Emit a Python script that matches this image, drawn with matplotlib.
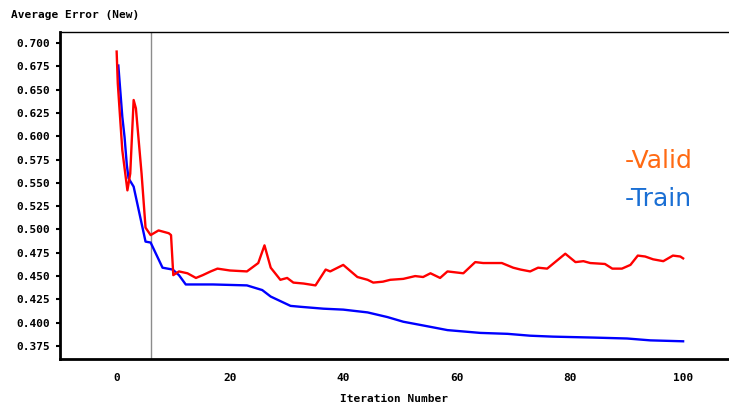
import matplotlib
matplotlib.use("Agg")
import matplotlib.pyplot as plt

# values
valid_x = [0, 0.2, 1.0, 1.9, 2.4, 3.0, 3.4, 4.4, 5.1, 6.0, 7.4, 9.2, 9.6, 10.0, 11.0,
           12.5, 14.0, 15.2, 16.6, 17.8, 20.0, 23.0, 25.0, 26.1, 27.2, 28.9, 30.1,
           31.2, 33.0, 35.1, 36.9, 37.7, 40.0, 42.5, 44.3, 45.3, 47.0, 48.3, 50.6,
           52.7, 54.1, 55.4, 57.1, 58.4, 61.2, 63.3, 64.7, 68.0, 70.0, 71.3, 73.0,
           74.4, 76.0, 79.2, 81.0, 82.4, 83.6, 86.2, 87.5, 89.2, 90.7, 92.0, 93.3,
           94.7, 96.5, 98.2, 99.5, 100]
valid_y = [0.691, 0.657, 0.585, 0.542, 0.560, 0.639, 0.630, 0.560, 0.502, 0.494,
           0.499, 0.496, 0.494, 0.451, 0.455, 0.453, 0.448, 0.451, 0.455, 0.458,
           0.456, 0.455, 0.464, 0.483, 0.459, 0.446, 0.448, 0.443, 0.442, 0.440,
           0.457, 0.455, 0.462, 0.449, 0.446, 0.443, 0.444, 0.446, 0.447, 0.450,
           0.449, 0.453, 0.448, 0.455, 0.453, 0.465, 0.464, 0.464, 0.459, 0.457,
           0.455, 0.459, 0.458, 0.474, 0.465, 0.466, 0.464, 0.463, 0.458, 0.458,
           0.462, 0.472, 0.471, 0.468, 0.466, 0.472, 0.471, 0.469]

train_x = [0.3, 1.0, 1.4, 1.8, 2.1, 3.0, 5.1, 6.0, 8.1, 9.9, 11.0, 12.2, 17.0,
           23.0, 25.7, 27.2, 30.7, 32.5, 36.5, 40.0, 44.3, 47.8, 50.6, 54.1, 58.4,
           64.2, 69.0, 73.0, 77.0, 84.1, 90.1, 94.2, 100]
train_y = [0.676, 0.621, 0.599, 0.569, 0.555, 0.546, 0.487, 0.486, 0.459, 0.457,
           0.451, 0.441, 0.441, 0.440, 0.435, 0.428, 0.418, 0.417, 0.415, 0.414,
           0.411, 0.406, 0.401, 0.397, 0.392, 0.389, 0.388, 0.386, 0.385, 0.384,
           0.383, 0.381, 0.380]

y_ticks = [0.375, 0.400, 0.425, 0.450, 0.475, 0.500, 0.525, 0.550, 0.575,
           0.600, 0.625, 0.650, 0.675, 0.700]
x_ticks = [0, 20, 40, 60, 80, 100]
marker_iter = 6

fig = plt.figure(figsize=(7.29, 4.05), dpi=100)
ax = fig.add_axes([0.0823, 0.1136, 0.9177, 0.8074])

ax.axvline(marker_iter, color="#8c8c8c", lw=1)
ax.plot(train_x, train_y, color="#0000ff", lw=1.7)
ax.plot(valid_x, valid_y, color="#ff0000", lw=1.7)

ax.set_xlim(-10, 108.1)
ax.set_ylim(0.361, 0.712)
ax.set_yticks(y_ticks)
ax.set_yticklabels(["%.3f" % v for v in y_ticks])
ax.set_xticks(x_ticks)

for lab in ax.get_xticklabels() + ax.get_yticklabels():
    lab.set_fontfamily("DejaVu Sans Mono")
    lab.set_fontweight("bold")
    lab.set_fontsize(8)
ax.tick_params(axis="y", length=3, width=1.5, pad=4)
ax.tick_params(axis="x", length=0, pad=10)

ax.spines["right"].set_visible(False)
ax.spines["left"].set_linewidth(2)
ax.spines["bottom"].set_linewidth(2)
ax.spines["top"].set_linewidth(1)

ax.set_xlabel("Iteration Number", family="DejaVu Sans Mono", weight="bold",
              size=8, labelpad=8)
fig.text(0.015, 0.962, "Average Error (New)", ha="left", va="center",
         family="DejaVu Sans Mono", weight="bold", size=8)

fig.text(0.857, 0.602, "-Valid", color="#ff6a13",
         fontsize=18, ha="left", va="center", family="DejaVu Sans")
fig.text(0.857, 0.509, "-Train", color="#1a6fd4",
         fontsize=18, ha="left", va="center", family="DejaVu Sans")

fig.savefig("out.png", dpi=100)
